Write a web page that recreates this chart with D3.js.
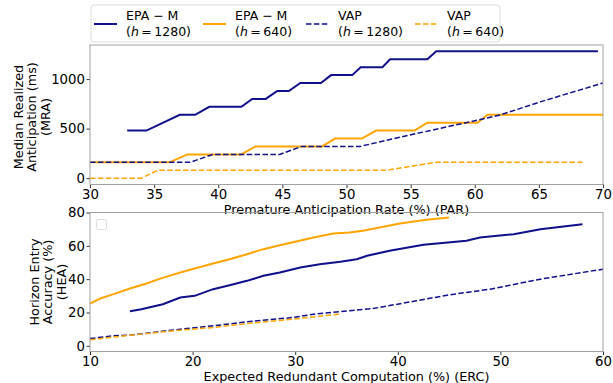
<!DOCTYPE html>
<html>
<head>
<meta charset="utf-8">
<script src="https://cdn.jsdelivr.net/npm/d3@7"></script>
<style>
  body { margin: 0; background: #fff; }
  text { font-family: "DejaVu Sans", sans-serif; fill: #000; }
</style>
</head>
<body>
<div id="chart"></div>
<script>
// ---- top panel: median realized anticipation vs PAR ----
var parEpa1280 = [32.9, 34.4, 37.0, 38.2, 39.3, 41.8, 42.65, 43.7, 44.6, 45.5, 46.4, 48.0, 48.8, 50.45, 51.1, 52.8, 53.4, 56.3, 57.0, 69.6];
var mraEpa1280 = [480, 480, 640, 640, 720, 720, 800, 800, 880, 880, 960, 960, 1040, 1040, 1120, 1120, 1200, 1200, 1280, 1280];
var parEpa640 = [30, 36.2, 37.6, 41.8, 42.9, 48.1, 49.1, 51.2, 52.3, 55.3, 56.3, 60.2, 61.0, 70];
var mraEpa640 = [160, 160, 240, 240, 320, 320, 400, 400, 480, 480, 560, 560, 640, 640];
var parVap1280 = [30, 37.8, 39.6, 44.8, 46.5, 51.05, 55.1, 60.2, 62.0, 65.1, 70];
var mraVap1280 = [160, 160, 240, 240, 320, 320, 440, 585, 638, 770, 960];
var parVap640 = [30, 34.0, 35.3, 53.1, 57.0, 68.4];
var mraVap640 = [0, 0, 80, 80, 160, 160];

// ---- bottom panel: horizon entry accuracy vs ERC ----
var ercEpa640 = [10, 11, 12.3, 13.9, 15.5, 17.0, 18.8, 20.2, 22.0, 23.6, 25.3, 26.9, 28.5, 30.1, 31.8, 33.7, 35.3, 36.6, 40.2, 42.8, 45.0];
var heaEpa640 = [25.4, 28.4, 31, 34.4, 37.4, 40.6, 44.0, 46.4, 49.4, 52.0, 55.0, 58.0, 60.4, 62.6, 65.0, 67.4, 68.0, 69, 73.4, 75.6, 77.0];
var ercEpa1280 = [13.9, 15.0, 17.1, 18.8, 20.2, 22.0, 23.6, 25.3, 26.9, 28.5, 30.5, 32.4, 34.4, 36.0, 37.0, 39.2, 42.5, 46.7, 48.0, 51.3, 53.9, 58.0];
var heaEpa1280 = [20.8, 22, 25, 29, 30, 34, 36.4, 39, 42, 44, 47, 49, 50.5, 52, 54, 57, 60.6, 63, 65, 67, 70, 73];
var ercVap1280 = [10, 12.3, 13.9, 18.8, 22, 25.3, 29.8, 31.8, 35.3, 37.6, 41.8, 44.8, 49.0, 53.9, 60];
var heaVap1280 = [4.4, 6.0, 6.4, 10, 12, 14.4, 17, 19, 21, 22.4, 27, 30.4, 34, 40, 46];
var ercVap640 = [10, 13.9, 18.8, 22, 25.3, 29.8, 34.5];
var heaVap640 = [3.6, 6.4, 9.4, 11, 13.4, 16, 19.2];

var parTicks = [30, 35, 40, 45, 50, 55, 60, 65, 70];
var mraTicks = [0, 500, 1000];
var ercTicks = [10, 20, 30, 40, 50, 60];
var heaTicks = [0, 20, 40, 60, 80];

var navy = "#10108c", orange = "#ffa500";

var svg = d3.select("#chart").append("svg").attr("width", 613).attr("height", 383);

function zip(xs, ys) { return xs.map(function (x, i) { return [x, ys[i]]; }); }

function styleAxis(a) {
  a.select(".domain").remove();
  a.selectAll("line").attr("stroke", "#000").attr("stroke-width", 0.8);
  a.selectAll("text").style("font-size", "13.3px");
}

function panel(opt) {
  var x = d3.scaleLinear().domain(opt.xDomain).range([opt.left, opt.right]);
  var y = d3.scaleLinear().domain(opt.yDomain).range([opt.bottom, opt.top]);
  var g = svg.append("g");

  g.append("g").attr("transform", "translate(0," + opt.bottom + ")")
    .call(d3.axisBottom(x).tickValues(opt.xTicks).tickFormat(d3.format("d")).tickSize(3.5).tickPadding(1.5))
    .call(styleAxis);
  g.append("g").attr("transform", "translate(" + opt.left + ",0)")
    .call(d3.axisLeft(y).tickValues(opt.yTicks).tickFormat(d3.format("d")).tickSize(3.5).tickPadding(1.5))
    .call(styleAxis);

  var clipId = "clip" + opt.name;
  svg.append("clipPath").attr("id", clipId).append("rect")
    .attr("x", opt.left).attr("y", opt.top)
    .attr("width", opt.right - opt.left).attr("height", opt.bottom - opt.top);

  var line = d3.line().x(function (d) { return x(d[0]); }).y(function (d) { return y(d[1]); });
  opt.series.forEach(function (s) {
    g.append("path").datum(zip(s.xs, s.ys))
      .attr("clip-path", "url(#" + clipId + ")")
      .attr("fill", "none").attr("stroke", s.color)
      .attr("stroke-width", s.dash ? 1.5 : 2)
      .attr("stroke-dasharray", s.dash ? "5.5,2.4" : null)
      .attr("d", line);
  });

  g.append("rect").attr("x", opt.left).attr("y", opt.top)
    .attr("width", opt.right - opt.left).attr("height", opt.bottom - opt.top)
    .attr("fill", "none").attr("stroke", "#a0a0a0").attr("stroke-width", 1);

  // x label
  g.append("text").attr("x", (opt.left + opt.right) / 2).attr("y", opt.xLabelY)
    .attr("text-anchor", "middle").style("font-size", "12.8px").text(opt.xLabel);
  // y label (multi-line, rotated)
  var yl = g.append("text").attr("transform", "translate(" + opt.yLabelX + "," + opt.yLabelY + ") rotate(-90)")
    .attr("text-anchor", "middle").style("font-size", "12.8px");
  opt.yLabel.forEach(function (t, i) {
    yl.append("tspan").attr("x", 0).attr("y", (i - (opt.yLabel.length - 1) / 2) * 13.5).text(t);
  });
  return g;
}

panel({
  name: "top", left: 90, right: 603, top: 45, bottom: 184.5,
  xDomain: [30, 70], yDomain: [-64, 1344], xTicks: parTicks, yTicks: mraTicks,
  xLabel: "Premature Anticipation Rate (%) (PAR)", xLabelY: 214,
  yLabel: ["Median Realized", "Anticipation (ms)", "(MRA)"], yLabelX: 36, yLabelY: 117,
  series: [
    { xs: parEpa1280, ys: mraEpa1280, color: navy },
    { xs: parEpa640, ys: mraEpa640, color: orange },
    { xs: parVap1280, ys: mraVap1280, color: navy, dash: true },
    { xs: parVap640, ys: mraVap640, color: orange, dash: true }
  ]
});

panel({
  name: "bottom", left: 90, right: 603, top: 212.5, bottom: 351.5,
  xDomain: [10, 60], yDomain: [-3.4, 80], xTicks: ercTicks, yTicks: heaTicks,
  xLabel: "Expected Redundant Computation (%) (ERC)", xLabelY: 381,
  yLabel: ["Horizon Entry", "Accuracy (%)", "(HEA)"], yLabelX: 52, yLabelY: 282,
  series: [
    { xs: ercEpa1280, ys: heaEpa1280, color: navy },
    { xs: ercEpa640, ys: heaEpa640, color: orange },
    { xs: ercVap1280, ys: heaVap1280, color: navy, dash: true },
    { xs: ercVap640, ys: heaVap640, color: orange, dash: true }
  ]
});

// empty legend box in the lower panel
svg.append("rect").attr("x", 96.5).attr("y", 219.5).attr("width", 10).attr("height", 10)
  .attr("rx", 2).attr("fill", "#fff").attr("stroke", "#dcdcdc");

// top legend
var legendItems = [
  { name: "EPA − M", h: "1280", color: navy, dash: false },
  { name: "EPA − M", h: "640", color: orange, dash: false },
  { name: "VAP", h: "1280", color: navy, dash: true },
  { name: "VAP", h: "640", color: orange, dash: true }
];
var legendX = [94, 203, 306, 415];
var lg = svg.append("g");
lg.append("rect").attr("x", 91).attr("y", 5).attr("width", 409).attr("height", 37)
  .attr("rx", 3).attr("fill", "#fff").attr("stroke", "#dcdcdc");
legendItems.forEach(function (d, i) {
  var x0 = legendX[i];
  lg.append("line").attr("x1", x0).attr("x2", x0 + 23).attr("y1", 24).attr("y2", 24)
    .attr("stroke", d.color).attr("stroke-width", d.dash ? 1.5 : 2)
    .attr("stroke-dasharray", d.dash ? "5.5,2.4" : null);
  lg.append("text").attr("x", x0 + 32).attr("y", 19.5).style("font-size", "12.5px").text(d.name);
  var t = lg.append("text").attr("x", x0 + 32).attr("y", 36).style("font-size", "12.5px");
  t.append("tspan").text("(");
  t.append("tspan").style("font-style", "italic").text("h");
  t.append("tspan").text("\u2009=\u2009" + d.h + ")");
});
</script>
</body>
</html>
